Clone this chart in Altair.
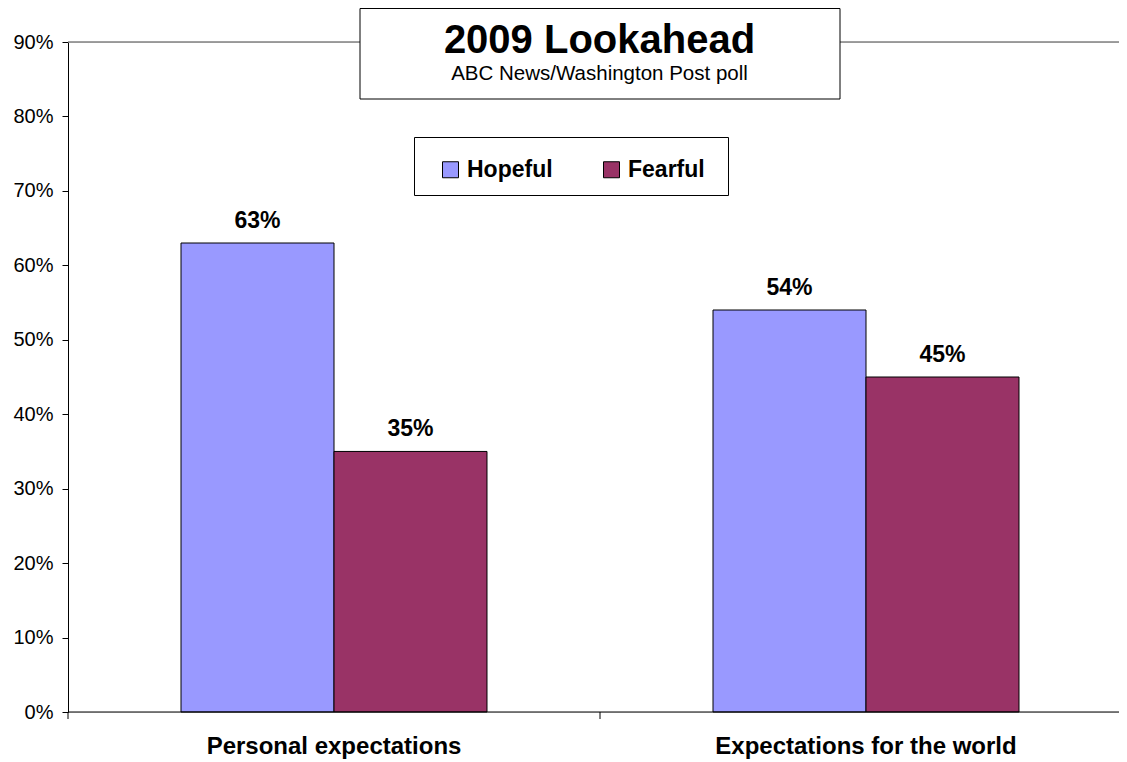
import altair as alt
import pandas as pd

categories = ["Personal expectations", "Expectations for the world"]
series = ["Hopeful", "Fearful"]
hopeful = [0.63, 0.54]
fearful = [0.35, 0.45]
y_ticks = [0, 0.1, 0.2, 0.3, 0.4, 0.5, 0.6, 0.7, 0.8, 0.9]
colors = ["#9999FF", "#993366"]

rows = []
for i, c in enumerate(categories):
    rows.append({"category": c, "series": "Hopeful", "value": hopeful[i]})
    rows.append({"category": c, "series": "Fearful", "value": fearful[i]})
df = pd.DataFrame(rows)
cat_df = pd.DataFrame({"category": categories})
box_df = pd.DataFrame({"k": [0]})

FONT = "Liberation Sans"

x_enc = alt.X(
    "category:N",
    sort=categories,
    scale=alt.Scale(range=[0, 1064], paddingInner=0, paddingOuter=0),
    axis=alt.Axis(title=None, ticks=False, domain=False, labelAngle=0, labelFontSize=24,
                  labelFontWeight="bold", labelColor="black", labelPadding=22,
                  labelFont=FONT, labelLimit=400),
)
xoff_enc = alt.XOffset("series:N", sort=series,
                       scale=alt.Scale(paddingOuter=0.7386, paddingInner=0))
y_enc = alt.Y(
    "value:Q",
    scale=alt.Scale(domain=[0, 0.9], nice=False),
    axis=alt.Axis(title=None, values=y_ticks, format=".0%", grid=False,
                  labelFontSize=20, labelColor="black", labelPadding=9,
                  tickSize=6, tickColor="black", domainColor="black", labelFont=FONT),
)

base = alt.Chart(df)

title_box = alt.Chart(box_df).mark_rect(fill="white", stroke="black", strokeWidth=1).encode(
    x=alt.value(292), x2=alt.value(772), y=alt.value(-33.5), y2=alt.value(57)
)
legend_box = alt.Chart(box_df).mark_rect(fill="white", stroke="black", strokeWidth=1).encode(
    x=alt.value(346.5), x2=alt.value(660.5), y=alt.value(95.5), y2=alt.value(153.5)
)

top_line = alt.Chart(box_df).mark_rule(color="#808080", strokeWidth=1.5).encode(
    y=alt.datum(0.9)
)
base_line = alt.Chart(box_df).mark_rule(color="black", strokeWidth=1).encode(
    y=alt.datum(0)
)

bars = base.mark_bar(stroke="black", strokeWidth=1).encode(
    x=x_enc,
    xOffset=xoff_enc,
    y=y_enc,
    color=alt.Color("series:N", sort=series,
                    scale=alt.Scale(domain=series, range=colors),
                    legend=alt.Legend(title=None, orient="none", legendX=371, legendY=116,
                                      direction="horizontal", padding=0,
                                      symbolType="square", symbolSize=256,
                                      symbolStrokeColor="black", symbolStrokeWidth=1,
                                      labelFontSize=23, labelFontWeight="bold",
                                      labelColor="black", labelOffset=5,
                                      columnPadding=47, labelFont=FONT)),
)

labels = base.mark_text(fontSize=23, fontWeight="bold", color="black", dy=-15,
                        baseline="alphabetic", font=FONT).encode(
    x=alt.X("category:N", sort=categories),
    xOffset=alt.XOffset("series:N", sort=series),
    y="value:Q",
    text=alt.Text("value:Q", format=".0%"),
)

cat_ticks = alt.Chart(cat_df).mark_rule(color="black", strokeWidth=1).encode(
    x=alt.X("category:N", sort=categories, bandPosition=0),
    y=alt.value(670), y2=alt.value(677),
)

chart = alt.layer(top_line, title_box, legend_box, bars, base_line, labels, cat_ticks).properties(
    width=1051,
    height=670,
    padding={"left": 60, "top": 34, "right": 0, "bottom": 50},
    autosize=alt.AutoSizeParams(type="none"),
    title=alt.Title(
        text="2009 Lookahead",
        subtitle="ABC News/Washington Post poll",
        fontSize=40, font=FONT, fontWeight="bold", color="black",
        subtitleFontSize=20.5, subtitleFont=FONT, subtitleColor="black",
        subtitlePadding=3, dx=6,
        anchor="middle", frame="group", offset=-76,
    ),
).configure_view(stroke=None).configure(font=FONT)

chart.save("out.html", embed_options={"renderer": "svg", "actions": False})
